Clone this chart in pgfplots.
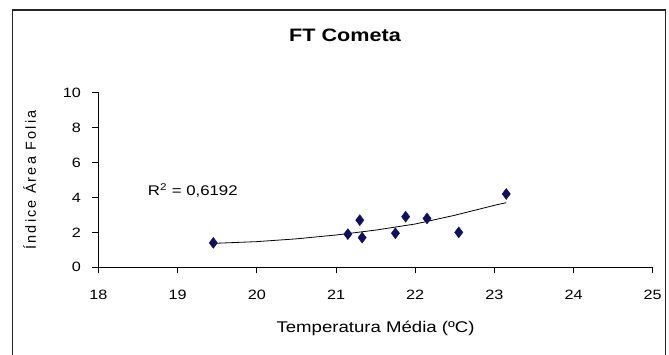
\documentclass[border=0pt]{standalone}
\usepackage{pgfplots}
\pgfplotsset{compat=1.18}
\usepackage{fontspec}
\setmainfont{Liberation Sans}[FakeStretch=1.2]
\newfontfamily\ylabfont{Liberation Sans}[LetterSpace=15]
\definecolor{marknavy}{RGB}{16,16,96}
\begin{document}
\begin{tikzpicture}[x=1pt,y=1pt]
\useasboundingbox (0,0) rectangle (669,354);
\draw[line width=1.3pt,black!85] (12.8,-5) -- (12.8,344) -- (665.5,344) -- (665.5,-5);
\node[font=\bfseries\fontsize{18}{20}\selectfont] at (345,319) {FT Cometa};
\begin{axis}[
    at={(98.5pt,86.7pt)}, anchor=origin,
    scale only axis,
    width=554.2pt, height=174.6pt,
    axis lines=left,
    axis line style={-, line width=0.9pt},
    xmin=18, xmax=25, ymin=0, ymax=10,
    xtick={18,19,...,25},
    ytick={0,2,...,10},
    tick align=outside,
    major tick length=6pt,
    tick style={line width=0.9pt, black},
    /pgf/number format/assume math mode=true,
    ticklabel style={font=\fontsize{13.5}{15}\selectfont},
    xticklabel style={yshift=-13pt},
    yticklabel style={xshift=-8pt},
    xlabel={Temperatura Média (ºC)},
    xlabel style={font=\fontsize{15.5}{17}\selectfont, yshift=-15pt},
    ylabel={Índice Área Folia},
    ylabel style={font=\ylabfont\fontsize{14.5}{16}\selectfont, yshift=20pt},
    clip=false,
]
% linha de tendencia
\addplot[black, line width=0.8pt] coordinates {
  (19.45,1.37) (20,1.47) (20.5,1.63) (21,1.85) (21.5,2.13)
  (22,2.48) (22.5,2.98) (23,3.55) (23.15,3.70)
};
% pontos observados
\addplot[only marks, mark=diamond*, mark size=5.5pt,
  mark options={fill=marknavy, draw=marknavy}] coordinates {
  (19.45,1.40) (21.15,1.90) (21.30,2.70) (21.33,1.70) (21.75,1.95)
  (21.88,2.90) (22.15,2.80) (22.55,2.00) (23.15,4.20)
};
\node[anchor=west, font=\fontsize{14}{16}\selectfont] at (axis cs:18.58,4.38)
  {R\textsuperscript{2} = 0,6192};
\end{axis}
\end{tikzpicture}
\end{document}
